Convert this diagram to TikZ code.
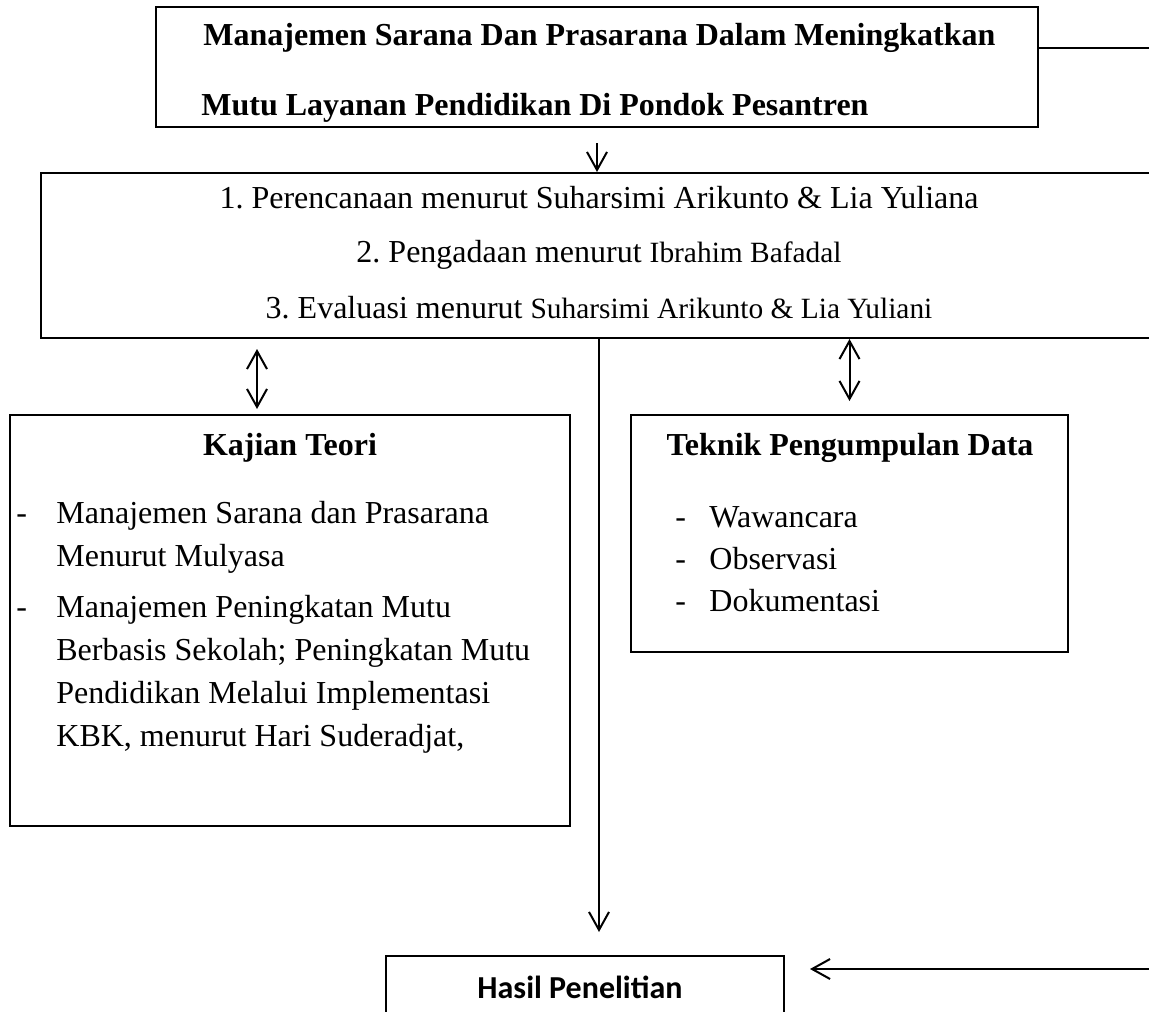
\documentclass[tikz,border=0pt]{standalone}
\usepackage{fontspec}
\setmainfont{Liberation Serif}
\newfontfamily\calibri{Carlito}
\usetikzlibrary{arrows.meta}
\newcommand\kecil{\fontsize{14.7}{18}\selectfont}

\begin{document}
\begin{tikzpicture}[x=0.5pt,y=-0.5pt]
\tikzset{kotak/.style={draw,line width=1pt,inner sep=0pt}}
\tikzset{teks/.style={inner sep=0pt,font=\fontsize{16}{19}\selectfont\frenchspacing}}
\tikzset{tebal/.style={inner sep=0pt,font=\fontsize{16}{19}\selectfont\bfseries}}
\tikzset{panah/.style={line width=1pt,>={Straight Barb[length=9pt,width=10pt]}}}

\fill[white] (0,0) rectangle (1149,1011);
\useasboundingbox (0,0) rectangle (1149,1011);
\clip (0,0) rectangle (1149,1011);

% kotak
\node[kotak,minimum width=441pt,minimum height=60pt] (judul) at (597,67) {};
\node[kotak,minimum width=558pt,minimum height=82.5pt] (fokus) at (599,255.5) {};
\node[kotak,minimum width=280pt,minimum height=205.5pt] (kajian) at (290,620.5) {};
\node[kotak,minimum width=218.5pt,minimum height=118.5pt] (teknik) at (849.5,533.5) {};
\node[kotak,minimum width=199pt,minimum height=60pt] (hasil) at (585,1016) {};

% judul
\node[tebal,anchor=base west] (judul1) at (203,46) {Manajemen Sarana Dan Prasarana Dalam Meningkatkan};
\node[tebal,anchor=base west] (judul2) at (201,115) {Mutu Layanan Pendidikan Di Pondok Pesantren};

% fokus
\node[teks,anchor=base] (fokus1) at (599,208) {1. Perencanaan menurut Suharsimi Arikunto \& Lia Yuliana};
\node[teks,anchor=base] (fokus2) at (599,262) {2. Pengadaan menurut {\kecil Ibrahim Bafadal}};
\node[teks,anchor=base] (fokus3) at (599,318) {3. Evaluasi menurut {\kecil Suharsimi Arikunto \& Lia Yuliani}};

% kajian teori
\node[tebal,anchor=base] (kajianjudul) at (290,455) {Kajian Teori};
\node[teks,anchor=base west] (kajianstrip1) at (16,523) {-};
\node[teks,anchor=base west] (kajianstrip2) at (16,617) {-};
\foreach \teks/\y [count=\i] in {Manajemen Sarana dan Prasarana/523, Menurut Mulyasa/566,
  Manajemen Peningkatan Mutu/617, {Berbasis Sekolah; Peningkatan Mutu}/660,
  Pendidikan Melalui Implementasi/703, {KBK, menurut Hari Suderadjat,}/746}
  \node[teks,anchor=base west] (kajian\i) at (56,\y) {\teks};

% teknik pengumpulan data
\node[tebal,anchor=base] (teknikjudul) at (850,455) {Teknik Pengumpulan Data};
\foreach \teks/\y [count=\i] in {Wawancara/527, Observasi/569, Dokumentasi/611} {
  \node[teks,anchor=base west] (teknikstrip\i) at (675,\y) {-};
  \node[teks,anchor=base west] (teknik\i) at (709,\y) {\teks};
}

% hasil
\node[inner sep=0pt,anchor=base,font=\calibri\bfseries\fontsize{16}{19}\selectfont] (hasiljudul) at (580,998) {Hasil Penelitian};

% panah
\coordinate (luar1) at (1149,48);
\coordinate (luar2) at (1149,969);
\draw[panah] (luar1 -| judul.east) -- (luar1);
\draw[panah,->,shorten <=7.5pt] (judul.south) -- (judul.south |- fokus.north);
\draw[panah,<->,shorten <=5pt,shorten >=2.5pt] ([xshift=-16.5pt]kajian.north |- fokus.south) -- ([xshift=-16.5pt]kajian.north);
\draw[panah,<->,shorten >=6.5pt] (teknik.north |- fokus.south) -- (teknik.north);
\draw[panah,->,shorten >=11.5pt] (fokus.south) -- (fokus.south |- hasil.north);
\draw[panah,->,shorten >=12.5pt] (luar2) -- (luar2 -| hasil.east);

\end{tikzpicture}
\end{document}
